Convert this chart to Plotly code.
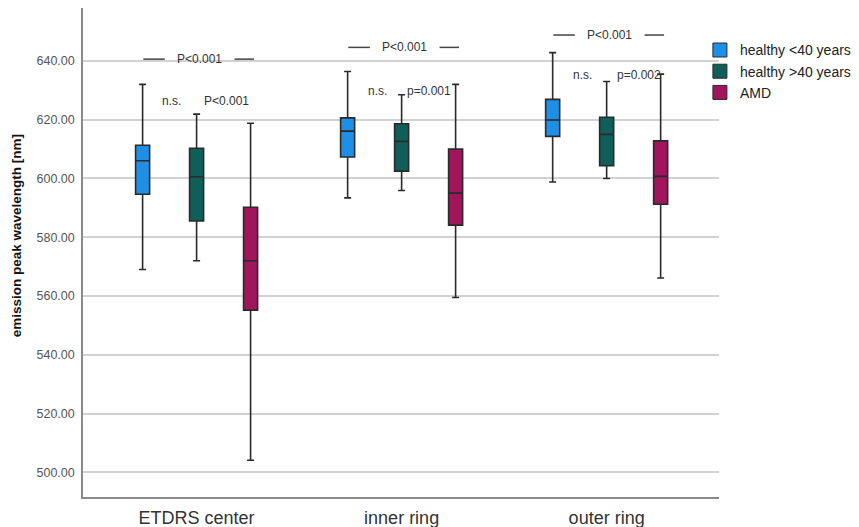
import plotly.graph_objects as go

# ---------------- data ----------------
categories = ["ETDRS center", "inner ring", "outer ring"]
groups = ["healthy <40 years", "healthy >40 years", "AMD"]
colors = ["#1f8fe6", "#0f5f58", "#a0155b"]

young_upper = [632.0, 636.4, 642.8]
young_q3 = [611.3, 620.6, 626.9]
young_median = [606.0, 616.1, 619.9]
young_q1 = [594.6, 607.3, 614.3]
young_lower = [569.0, 593.4, 598.8]

old_upper = [621.9, 628.5, 633.0]
old_q3 = [610.3, 618.6, 620.8]
old_median = [600.6, 612.6, 615.0]
old_q1 = [585.5, 602.5, 604.3]
old_lower = [572.0, 595.9, 600.0]

amd_upper = [618.8, 632.0, 635.5]
amd_q3 = [590.2, 610.0, 612.8]
amd_median = [572.0, 595.0, 600.7]
amd_q1 = [555.2, 584.1, 591.2]
amd_lower = [504.1, 559.5, 566.1]

y_ticks = [500, 520, 540, 560, 580, 600, 620, 640]
y_title = "emission peak wavelength [nm]"

# significance labels
top_text = ["P<0.001", "P<0.001", "P<0.001"]
top_y = [640.6, 644.6, 648.8]
pair_left_text = ["n.s.", "n.s.", "n.s."]
pair_right_text = ["P<0.001", "p=0.001", "p=0.002"]
pair_y = [626.5, 629.9, 635.2]
pair_right_off = [0.147, 0.135, 0.158]

stats = [
    (young_lower, young_q1, young_median, young_q3, young_upper),
    (old_lower, old_q1, old_median, old_q3, old_upper),
    (amd_lower, amd_q1, amd_median, amd_q3, amd_upper),
]

fig = go.Figure()
for name, col, (lo, q1, med, q3, up) in zip(groups, colors, stats):
    fig.add_trace(go.Box(
        name=name, x=categories,
        lowerfence=lo, q1=q1, median=med, q3=q3, upperfence=up,
        fillcolor=col, line=dict(color="#2a2a2a", width=1.6),
        whiskerwidth=0.5, boxpoints=False, hoverinfo="skip", showlegend=False,
    ))
# legend entries drawn as filled squares like the original
for name, col in zip(groups, colors):
    fig.add_trace(go.Scatter(
        name=name, x=[None], y=[None], mode="markers",
        marker=dict(symbol="square", size=14, color=col, line=dict(color="#2a2a2a", width=1)),
        hoverinfo="skip", showlegend=True,
    ))

ann_font = dict(family="Liberation Sans, Arial", size=12, color="#333333")
annotations = []
shapes = []
for i in range(len(categories)):
    annotations.append(dict(x=i + 0.013, y=top_y[i], xref="x", yref="y", text=top_text[i],
                            showarrow=False, font=ann_font))
    annotations.append(dict(x=i - 0.12, y=pair_y[i], xref="x", yref="y", text=pair_left_text[i],
                            showarrow=False, font=ann_font))
    annotations.append(dict(x=i + pair_right_off[i], y=pair_y[i], xref="x", yref="y",
                            text=pair_right_text[i], showarrow=False, font=ann_font))
    for a, b in [(-0.26, -0.155), (0.185, 0.28)]:
        shapes.append(dict(type="line", xref="x", yref="y", x0=i + a, x1=i + b,
                           y0=top_y[i], y1=top_y[i], line=dict(color="#444444", width=1.5)))

# y-axis title as rotated annotation (positioned like the original, slightly above centre)
annotations.append(dict(x=-0.104, y=0.535, xref="paper", yref="paper", text="<b>" + y_title + "</b>",
                        textangle=-90, showarrow=False, xanchor="center", yanchor="middle",
                        font=dict(family="Liberation Sans, Arial", size=13.5, color="#111111")))

# the page has an 8px body margin, so the figure is sized to fit the 859x527 window
fig.update_layout(
    width=851, height=519,
    margin=dict(l=75, r=140, t=0, b=30, autoexpand=False),
    paper_bgcolor="white", plot_bgcolor="white",
    boxmode="group", boxgap=0.21, boxgroupgap=0.74,
    font=dict(family="Liberation Sans, Arial", color="#333333"),
    showlegend=True,
    legend=dict(x=0.97, xanchor="left", y=0.946, yanchor="top",
                font=dict(size=14, color="#222222"), bgcolor="rgba(0,0,0,0)",
                tracegroupgap=0),
    annotations=annotations, shapes=shapes,
)
fig.update_xaxes(
    type="category", range=[-0.554, 2.548], showgrid=False,
    showline=True, linecolor="#8a8a8a", linewidth=1.5, ticks="",
    tickfont=dict(size=18, color="#333333"), ticklabelstandoff=4,
)
fig.update_yaxes(
    range=[491.6, 658.0], tickvals=y_ticks, tickformat=".2f",
    showgrid=True, gridcolor="#d2d2d2", gridwidth=1.5, zeroline=False,
    showline=True, linecolor="#8a8a8a", linewidth=1.5, ticks="",
    tickfont=dict(size=12.5, color="#555555"), ticklabelstandoff=4,
    automargin=False,
)

fig.write_html("out.html")
